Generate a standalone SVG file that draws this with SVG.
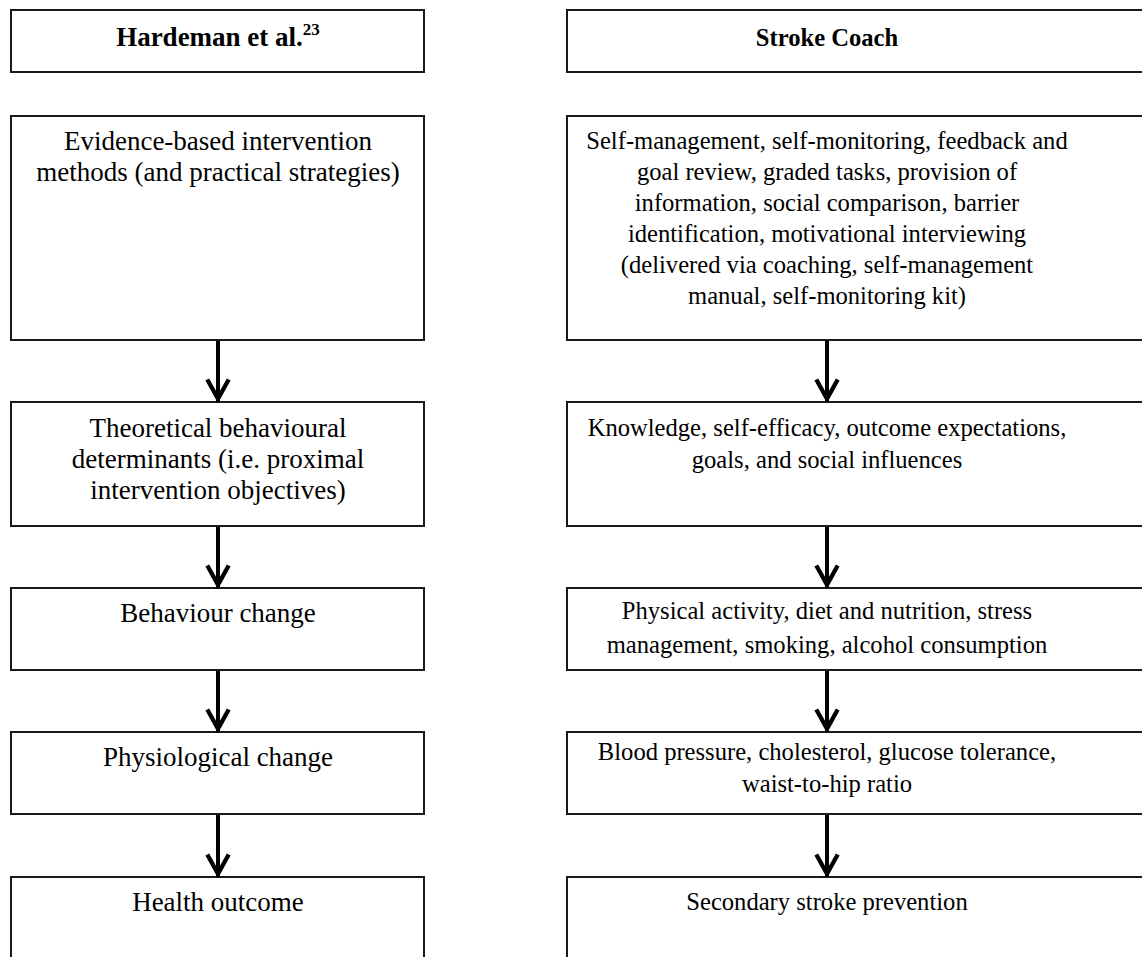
<svg xmlns="http://www.w3.org/2000/svg" width="1142" height="957" viewBox="0 0 1142 957">
<style>
.box{fill:#fff;stroke:#1a1a1a;stroke-width:2}
.t{font-family:"Liberation Serif","Times New Roman",serif;font-size:27px;fill:#000;text-anchor:middle}
.r{font-size:24.6px}
.h{font-weight:bold}
.c{stroke:#000;stroke-width:4;fill:none}
</style>
<defs>
<marker id="arr" markerUnits="userSpaceOnUse" markerWidth="30" markerHeight="30" viewBox="-2 -4 28 28" refX="21" refY="10" orient="auto">
<polyline points="0,0 18,10 0,20" fill="none" stroke="#000" stroke-width="4" stroke-miterlimit="10"/>
</marker>
</defs>
<rect width="1142" height="957" fill="#fff"/>
<g id="left-header"><rect class="box" x="11" y="10" width="413" height="62"/><text class="t h" x="218" y="46">Hardeman et al.<tspan font-size="17" dy="-11">23</tspan></text></g>
<g id="right-header"><rect class="box" x="567" y="10" width="600" height="62"/><text class="t r h" x="827" y="46">Stroke Coach</text></g>

<g id="L1"><rect class="box" x="11" y="116" width="413" height="224"/>
<text class="t" x="218" y="150">Evidence-based intervention</text>
<text class="t" x="218" y="181">methods (and practical strategies)</text></g>
<g id="L2"><rect class="box" x="11" y="402" width="413" height="124"/>
<text class="t" x="218" y="437">Theoretical behavioural</text>
<text class="t" x="218" y="468">determinants (i.e. proximal</text>
<text class="t" x="218" y="499">intervention objectives)</text></g>
<g id="L3"><rect class="box" x="11" y="588" width="413" height="82"/>
<text class="t" x="218" y="622">Behaviour change</text></g>
<g id="L4"><rect class="box" x="11" y="732" width="413" height="82"/>
<text class="t" x="218" y="766">Physiological change</text></g>
<g id="L5"><rect class="box" x="11" y="877" width="413" height="100"/>
<text class="t" x="218" y="911">Health outcome</text></g>

<g id="R1"><rect class="box" x="567" y="116" width="600" height="224"/>
<text class="t r" x="827" y="149">Self-management, self-monitoring, feedback and</text>
<text class="t r" x="827" y="180">goal review, graded tasks, provision of</text>
<text class="t r" x="827" y="211">information, social comparison, barrier</text>
<text class="t r" x="827" y="242">identification, motivational interviewing</text>
<text class="t r" x="827" y="273">(delivered via coaching, self-management</text>
<text class="t r" x="827" y="304">manual, self-monitoring kit)</text></g>
<g id="R2"><rect class="box" x="567" y="402" width="600" height="124"/>
<text class="t r" x="827" y="436">Knowledge, self-efficacy, outcome expectations,</text>
<text class="t r" x="827" y="468">goals, and social influences</text></g>
<g id="R3"><rect class="box" x="567" y="588" width="600" height="82"/>
<text class="t r" x="827" y="619">Physical activity, diet and nutrition, stress</text>
<text class="t r" x="827" y="653">management, smoking, alcohol consumption</text></g>
<g id="R4"><rect class="box" x="567" y="732" width="600" height="82"/>
<text class="t r" x="827" y="760">Blood pressure, cholesterol, glucose tolerance,</text>
<text class="t r" x="827" y="792">waist-to-hip ratio</text></g>
<g id="R5"><rect class="box" x="567" y="877" width="600" height="100"/>
<text class="t r" x="827" y="910">Secondary stroke prevention</text></g>

<g id="connectors">
<line class="c" x1="218" y1="341" x2="218" y2="402" marker-end="url(#arr)"/>
<line class="c" x1="218" y1="527" x2="218" y2="588" marker-end="url(#arr)"/>
<line class="c" x1="218" y1="671" x2="218" y2="732" marker-end="url(#arr)"/>
<line class="c" x1="218" y1="815" x2="218" y2="877" marker-end="url(#arr)"/>
<line class="c" x1="827" y1="341" x2="827" y2="402" marker-end="url(#arr)"/>
<line class="c" x1="827" y1="527" x2="827" y2="588" marker-end="url(#arr)"/>
<line class="c" x1="827" y1="671" x2="827" y2="732" marker-end="url(#arr)"/>
<line class="c" x1="827" y1="815" x2="827" y2="877" marker-end="url(#arr)"/>
</g>
</svg>
